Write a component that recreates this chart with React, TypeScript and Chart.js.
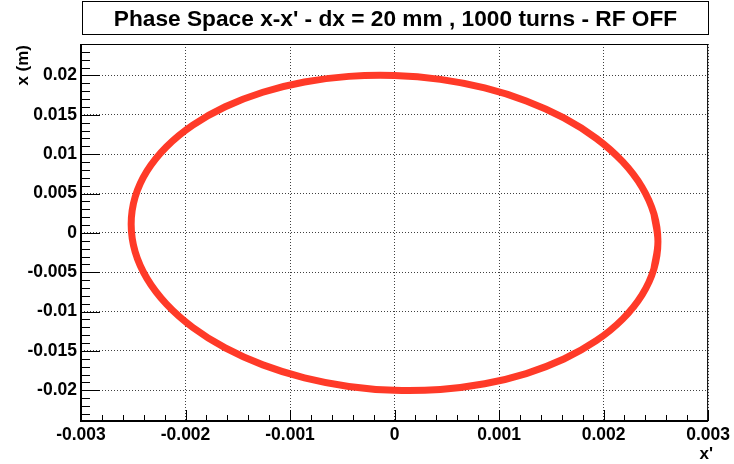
import React, { useEffect, useRef } from "react";
import { Chart, registerables } from "chart.js";

Chart.register(...registerables);

const TITLE = "Phase Space x-x' - dx = 20 mm , 1000 turns - RF OFF";
const X_TITLE = "x'";
const Y_TITLE = "x (m)";

// x' (rad) and x (m) read around the ellipse
const xPrime = [
  0.00252, 0.002482, 0.002368, 0.002182, 0.00193, 0.00162, 0.00126, 0.000862, 0.000438,
  0.0, -0.000438, -0.000862, -0.00126, -0.00162, -0.00193, -0.002182, -0.002368, -0.002482,
  -0.00252, -0.002482, -0.002368, -0.002182, -0.00193, -0.00162, -0.00126, -0.000862, -0.000438,
  0.0, 0.000438, 0.000862, 0.00126, 0.00162, 0.00193, 0.002182, 0.002368, 0.002482,
];
const xPos = [
  -0.0011, 0.00239, 0.005806, 0.009047, 0.012013, 0.014613, 0.01677, 0.018418, 0.019505,
  0.02, 0.019887, 0.01917, 0.01787, 0.016027, 0.013699, 0.010953, 0.007874, 0.004556,
  0.0011, -0.00239, -0.005806, -0.009047, -0.012013, -0.014613, -0.01677, -0.018418, -0.019505,
  -0.02, -0.019887, -0.01917, -0.01787, -0.016027, -0.013699, -0.010953, -0.007874, -0.004556,
];

const X_MIN = -0.003;
const X_MAX = 0.003;
const Y_MIN = -0.0239;
const Y_MAX = 0.024;
const X_MAJOR = 0.001;
const Y_MAJOR = 0.005;

const FONT = "'Liberation Sans', Arial, Helvetica, sans-serif";

const fmt = (v: any) => {
  const n = Number(v);
  if (Math.abs(n) < 1e-12) return "0";
  return String(parseFloat(n.toFixed(4)));
};

const rootFrame = {
  id: "rootFrame",
  beforeDraw(chart: any) {
    const ctx = chart.ctx;
    ctx.save();
    ctx.fillStyle = "#fff";
    ctx.fillRect(0, 0, chart.width, chart.height);
    ctx.restore();
  },
  afterDraw(chart: any) {
    const ctx = chart.ctx;
    const { left, right, top, bottom } = chart.chartArea;
    const xs = chart.scales.x;
    const ys = chart.scales.y;
    ctx.save();
    // frame
    ctx.strokeStyle = "#000";
    ctx.lineWidth = 1;
    ctx.strokeRect(left + 0.5, top + 0.5, right - left - 1, bottom - top - 1);
    ctx.fillStyle = "#000";
    ctx.fillRect(left - 1, top, 2, bottom - top + 1);
    ctx.fillRect(left - 1, bottom - 1, right - left + 1, 2);

    // y ticks (inside)
    ctx.beginPath();
    const yStart = Math.ceil(Y_MIN * 1000 - 1e-9);
    const yEnd = Math.floor(Y_MAX * 1000 + 1e-9);
    for (let i = yStart; i <= yEnd; i++) {
      const py = Math.round(ys.getPixelForValue(i / 1000)) + 0.5;
      const len = i % 5 === 0 ? 19 : 9;
      ctx.moveTo(left, py);
      ctx.lineTo(left + len, py);
    }
    // x ticks (inside)
    for (let i = -15; i <= 15; i++) {
      const px = Math.round(xs.getPixelForValue(i * 0.0002)) + 0.5;
      const len = i % 5 === 0 ? 11 : 6;
      ctx.moveTo(px, bottom);
      ctx.lineTo(px, bottom - len);
    }
    ctx.stroke();

    // title box
    ctx.fillStyle = "#fff";
    ctx.fillRect(82, 1, 627, 34);
    ctx.strokeRect(82.5, 1.5, 626, 33);
    ctx.fillStyle = "#000";
    ctx.font = `bold 22.7px ${FONT}`;
    ctx.textAlign = "center";
    ctx.textBaseline = "alphabetic";
    ctx.fillText(TITLE, 395.5, 25.5);

    // axis titles
    ctx.font = `bold 17px ${FONT}`;
    ctx.textAlign = "right";
    ctx.fillText(X_TITLE, 713, 459);
    ctx.save();
    ctx.translate(28, 45);
    ctx.rotate(-Math.PI / 2);
    ctx.textAlign = "right";
    ctx.fillText(Y_TITLE, 0, 0);
    ctx.restore();

    ctx.restore();
  },
};

export default function App() {
  const ref = useRef<HTMLCanvasElement | null>(null);
  useEffect(() => {
    if (!ref.current) return;
    const base = xPrime.map((v, i) => ({ x: v, y: xPos[i] }));
    const n = base.length;
    // close the loop with wrap-around neighbours so the curve stays smooth
    const pts = [base[n - 1], ...base, base[0], base[1]];
    const tickFont = { family: FONT, size: 17.5, weight: "bold" as const };
    const chart = new Chart(ref.current, {
      type: "scatter",
      data: {
        datasets: [
          {
            data: pts,
            showLine: true,
            borderColor: "#ff3a28",
            backgroundColor: "#ff3a28",
            borderWidth: 7,
            pointRadius: 0,
            tension: 0.4,
            fill: false,
            borderJoinStyle: "round",
            borderCapStyle: "round",
          } as any,
        ],
      },
      options: {
        animation: false,
        responsive: false,
        devicePixelRatio: 1,
        layout: { padding: { left: 0, right: 22, top: 44, bottom: 0 } },
        plugins: {
          legend: { display: false },
          title: { display: false },
          tooltip: { enabled: false },
        },
        scales: {
          x: {
            type: "linear",
            min: X_MIN,
            max: X_MAX,
            afterFit: (s: any) => {
              s.height = 43;
            },
            grid: { color: "rgba(0,0,0,0.75)", lineWidth: 1, drawTicks: false },
            border: { display: false, dash: [1, 2] },
            ticks: {
              stepSize: X_MAJOR,
              font: tickFont,
              color: "#000",
              padding: 4,
              maxRotation: 0,
              autoSkip: false,
              callback: fmt,
            },
          },
          y: {
            type: "linear",
            min: Y_MIN,
            max: Y_MAX,
            afterFit: (s: any) => {
              s.width = 81;
            },
            grid: { color: "rgba(0,0,0,0.75)", lineWidth: 1, drawTicks: false },
            border: { display: false, dash: [1, 2] },
            ticks: {
              stepSize: Y_MAJOR,
              includeBounds: false,
              font: tickFont,
              color: "#000",
              padding: 4,
              autoSkip: false,
              callback: fmt,
            },
          },
        },
      } as any,
      plugins: [rootFrame],
    });
    return () => chart.destroy();
  }, []);
  return (
    <div style={{ position: "absolute", left: 0, top: 0, width: 734, height: 464 }}>
      <canvas ref={ref} width={734} height={464} style={{ display: "block" }} />
    </div>
  );
}
